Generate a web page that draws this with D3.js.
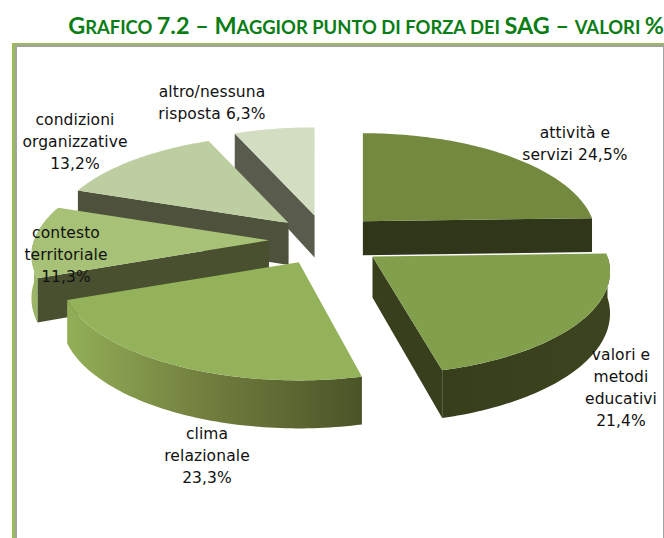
<!DOCTYPE html>
<html><head><meta charset="utf-8">
<script src="https://cdnjs.cloudflare.com/ajax/libs/d3/7.8.5/d3.min.js"></script>
<style>html,body{margin:0;padding:0;background:#fff}svg{display:block}</style>
</head><body><svg id="c" width="664" height="538"></svg>
<script>
// Data
const categories = ["attività e servizi","valori e metodi educativi","clima relazionale","contesto territoriale","condizioni organizzative","altro/nessuna risposta"];
const values = [24.5,21.4,23.3,11.3,13.2,6.3];
const labelLines = [["attività e","servizi"],["valori e","metodi","educativi"],["clima","relazionale"],["contesto","territoriale"],["condizioni","organizzative"],["altro/nessuna","risposta"]];
const valueOnOwnLine = [false,true,true,true,true,false];
// Styling and layout
const topColors = ["#738A3E","#829F4C","#94B25A","#A7C176","#BDCEA0","#D3DDC2"];
const wallColors = ["#30361A","#373F1D","#4A5428","#485030","#4E523C","#595C4C"];
const arcWalls = [["#30361A","#30361A"],["#3C441F","#363E1C"],["#4A5428","#92AF57"],["#9AB565","#9AB565"],["#BDCEA0","#BDCEA0"],["#D3DDC2","#D3DDC2"]];
const depths = [34,41,41,42,42,42];
const sliceShift = [[2,1],[6,2],[-1,0],[-2,1],[3,2],[1,2]];
const sliceRx = [0.98,1,1,1,1,1];
const startTrim = [0,0,0.025,0,0,0];
const labelAnchors = [[575,138],[621,360],[207,439],[66,238],[75,125],[212,97]];
const drawOrder = [5,4,3,0,1,2];
const cx=324, cy=239, explodeX=53, explodeY=26, Rx=235, Ry=101, persp=0.146, lineH=22;

const svg=d3.select("#c");
const defs=svg.append("defs");

// Frame
svg.append("rect").attr("x",12).attr("y",43).attr("width",652).attr("height",495).attr("fill","#9BBB59");
svg.append("rect").attr("x",15).attr("y",45).attr("width",649).attr("height",493).attr("fill","#A3A3A3");
svg.append("rect").attr("x",17).attr("y",47).attr("width",646).attr("height",491).attr("fill","#fff");

// Title
const T=svg.append("text").attr("x",664).attr("y",34).attr("text-anchor","end")
  .attr("font-family","Lato, sans-serif").attr("font-weight",700).attr("fill","#0A7D14");
[["G",23.4],["RAFICO ",18.4],["7.2 – M",23.4],["AGGIOR PUNTO DI FORZA DEI ",18.4],["SAG",23.4],[" – ",23.4],["VALORI ",18.4],["%",23.4]]
 .forEach(([s,z])=>T.append("tspan").attr("font-size",z).attr("xml:space","preserve").text(s));

// Pie geometry
const pie=d3.pie().sort(null).value(d=>d).startAngle(0).endAngle(2*Math.PI);
const arcs=pie(values);
const line=d3.line().x(d=>d[0]).y(d=>d[1]);
function project(apex,r,a,drop,k){
  const u=r*Math.sin(a), v=-r*Math.cos(a), s=1/(1-persp*v);
  return [apex[0]+u*Rx*(k||1)*s, apex[1]+v*Ry*s+(drop||0)*s];
}
function samples(a0,a1){const n=Math.max(2,Math.ceil((a1-a0)/0.02));return d3.range(n+1).map(i=>a0+(a1-a0)*i/n);}

drawOrder.forEach(i=>{
  const d=arcs[i], m=(d.startAngle+d.endAngle)/2;
  const apex=[cx+explodeX*Math.sin(m)+sliceShift[i][0], cy-explodeY*Math.cos(m)+sliceShift[i][1]];
  const g=svg.append("g");
  const dep=depths[i], k=sliceRx[i];
  const sA=d.startAngle+startTrim[i], eA=d.endAngle;
  const radial=(a)=>{
    const pts=[project(apex,0,a,0,k),project(apex,1,a,0,k),project(apex,1,a,dep,k),project(apex,0,a,dep,k)];
    g.append("path").attr("d",line(pts)+"Z").attr("fill",wallColors[i]);
  };
  // a radial wall is drawn when its outward normal faces the viewer
  if(-Math.sin(sA)>0 || Math.abs(Math.sin(sA))<1e-6) radial(sA);
  if(Math.sin(eA)>0) radial(eA);
  // outer wall: the part of the rim facing the viewer
  const a0=Math.max(sA,Math.PI/2), a1=Math.min(eA,3*Math.PI/2);
  if(a1>a0){
    const as=samples(a0,a1);
    const pts=as.map(a=>project(apex,1,a,0,k)).concat(as.slice().reverse().map(a=>project(apex,1,a,dep,k)));
    const id="w"+i;
    const gr=defs.append("linearGradient").attr("id",id).attr("x1","100%").attr("x2","0%").attr("y1","0").attr("y2","0");
    const [cR,cL]=arcWalls[i];
    gr.append("stop").attr("offset","0%").attr("stop-color",cR);
    if(i===2) gr.append("stop").attr("offset","55%").attr("stop-color","#73803F");
    gr.append("stop").attr("offset","100%").attr("stop-color",cL);
    g.append("path").attr("d",line(pts)+"Z").attr("fill",`url(#${id})`);
  }
  // top face
  const face=[apex].concat(samples(sA,eA).map(a=>project(apex,1,a,0,k)));
  g.append("path").attr("d",line(face)+"Z").attr("fill",topColors[i]);
});

// Labels
const fmt=v=>d3.format(".1f")(v).replace(".",",")+"%";
categories.forEach((c,i)=>{
  const lines=labelLines[i].slice();
  if(valueOnOwnLine[i]) lines.push(fmt(values[i]));
  else lines[lines.length-1]+=" "+fmt(values[i]);
  const t=svg.append("text").attr("text-anchor","middle").attr("font-family","'DejaVu Sans', sans-serif")
    .attr("font-size",15.5).attr("letter-spacing",0.1).attr("fill","#111");
  lines.forEach((l,k)=>t.append("tspan").attr("x",labelAnchors[i][0]).attr("y",labelAnchors[i][1]+k*lineH).text(l));
});
</script></body></html>
